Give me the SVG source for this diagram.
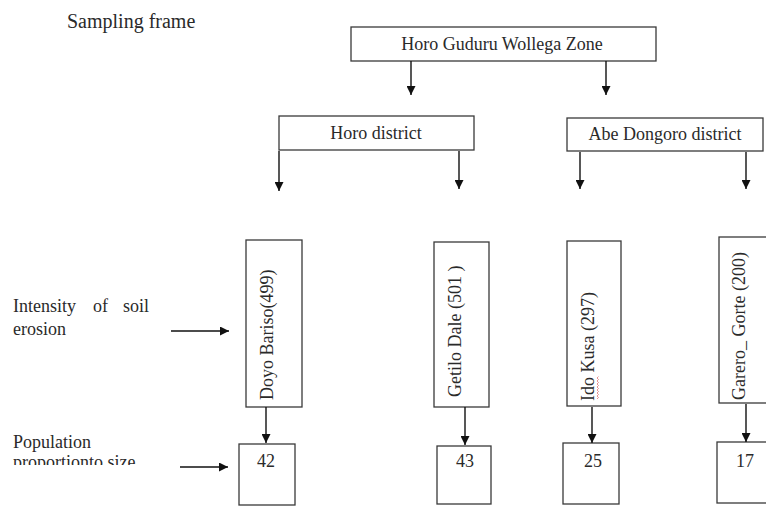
<svg xmlns="http://www.w3.org/2000/svg" width="766" height="506" viewBox="0 0 766 506">
<style>
text{font-family:"Liberation Serif","Times New Roman",serif;font-size:18px;fill:#2a2a2a}
.box{fill:#fff;stroke:#3a3a3a;stroke-width:1.3}
.ln{stroke:#111;stroke-width:1.4;fill:none}
</style>
<defs>
<marker id="ah" viewBox="0 0 10 10" refX="10" refY="5" markerWidth="9" markerHeight="9" markerUnits="userSpaceOnUse" orient="auto">
<path d="M0,0 L10,5 L0,10 z" fill="#111"/>
</marker>
<clipPath id="clipProp"><rect x="0" y="440" width="200" height="25"/></clipPath>
</defs>
<rect width="766" height="506" fill="#fff"/>
<text x="67" y="28" style="font-size:20px">Sampling frame</text>
<g id="zone"><rect class="box" x="351" y="27" width="305" height="34"/><text x="502" y="50" text-anchor="middle">Horo Guduru Wollega Zone</text></g>
<g id="horo"><rect class="box" x="279" y="116" width="195" height="34"/><text x="376" y="139" text-anchor="middle">Horo district</text></g>
<g id="abe"><rect class="box" x="567" y="118" width="196" height="33"/><text x="665" y="140" text-anchor="middle">Abe Dongoro district</text></g>
<g id="doyo"><rect class="box" x="246" y="240" width="56" height="167"/><text transform="translate(273,400) rotate(-90)">Doyo Bariso(499)</text></g>
<g id="getilo"><rect class="box" x="434" y="242" width="55" height="165"/><text transform="translate(461,397) rotate(-90)">Getilo Dale (501 )</text></g>
<g id="ido"><rect class="box" x="567" y="241" width="54" height="165"/><text transform="translate(594,401) rotate(-90)">Ido Kusa (297)</text><path d="M597,399 l1.5,-1.5 l-1.5,-1.5 l1.5,-1.5 l-1.5,-1.5 l1.5,-1.5 l-1.5,-1.5 l1.5,-1.5 l-1.5,-1.5 l1.5,-1.5 l-1.5,-1.5 l1.5,-1.5 l-1.5,-1.5 l1.5,-1.5 l-1.5,-1.5 l1.5,-1.5" fill="none" stroke="#d66" stroke-width="0.7"/></g>
<g id="garero"><rect class="box" x="719" y="237" width="60" height="166"/><text transform="translate(745,400) rotate(-90)">Garero_ Gorte (200)</text></g>
<g id="n42"><rect class="box" x="239" y="444" width="56" height="61"/><text x="266" y="467" text-anchor="middle">42</text></g>
<g id="n43"><rect class="box" x="437" y="446" width="54" height="58"/><text x="465" y="467" text-anchor="middle">43</text></g>
<g id="n25"><rect class="box" x="563" y="443" width="56" height="61"/><text x="593" y="467" text-anchor="middle">25</text></g>
<g id="n17"><rect class="box" x="717" y="442" width="60" height="61"/><text x="745" y="467" text-anchor="middle">17</text></g>
<g id="lab1"><text y="312"><tspan x="13">Intensity</tspan><tspan x="93">of</tspan><tspan x="123">soil</tspan></text><text x="13" y="335">erosion</text></g>
<g id="lab2"><text x="13" y="448">Population</text><text x="13" y="468" clip-path="url(#clipProp)">proportionto size</text></g>
<g id="connectors">
<line class="ln" x1="411" y1="61" x2="411" y2="95" marker-end="url(#ah)"/>
<line class="ln" x1="606" y1="61" x2="606" y2="95" marker-end="url(#ah)"/>
<line class="ln" x1="279" y1="151" x2="279" y2="191" marker-end="url(#ah)"/>
<line class="ln" x1="459" y1="151" x2="459" y2="189" marker-end="url(#ah)"/>
<line class="ln" x1="580" y1="152" x2="580" y2="189" marker-end="url(#ah)"/>
<line class="ln" x1="746" y1="152" x2="746" y2="189" marker-end="url(#ah)"/>
<line class="ln" x1="266" y1="407" x2="266" y2="443" marker-end="url(#ah)"/>
<line class="ln" x1="465" y1="407" x2="465" y2="445" marker-end="url(#ah)"/>
<line class="ln" x1="592" y1="407" x2="592" y2="443" marker-end="url(#ah)"/>
<line class="ln" x1="746" y1="404" x2="746" y2="442" marker-end="url(#ah)"/>
<line class="ln" x1="171" y1="331" x2="229" y2="331" marker-end="url(#ah)"/>
<line class="ln" x1="180" y1="467" x2="228" y2="467" marker-end="url(#ah)"/>
</g>
</svg>
